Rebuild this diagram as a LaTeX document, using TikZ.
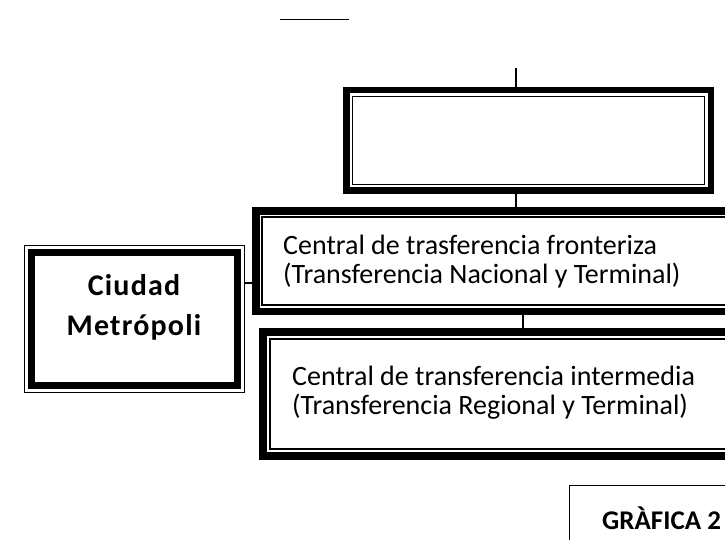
\documentclass[tikz,border=0pt]{standalone}
\usepackage{fontspec}
\setmainfont{Carlito}
\newfontfamily\cbold[LetterSpace=4]{Carlito}
\begin{document}
\begin{tikzpicture}[x=1pt,y=-1pt,
  area/.style={draw=none,inner sep=0pt,outer sep=0pt,minimum width=#1},
  conn/.style={line width=1.2pt,black},
  txt/.style={inner sep=0pt,anchor=base west,font=\fontsize{28}{33}\selectfont},
  btxt/.style={inner sep=0pt,anchor=base,font=\cbold\bfseries\fontsize{30}{34}\selectfont}]
\useasboundingbox (0,0) rectangle (725,540);
\clip (0,0) rectangle (725,540);
% frames (named areas)
\node[area=371pt,minimum height=107pt] (topbox) at (528.5,140.5) {};
\node[area=490pt,minimum height=108pt] (fronbox) at (497,261) {};
\node[area=480pt,minimum height=132pt] (interbox) at (499,394) {};
\node[area=221pt,minimum height=148pt] (ciudad) at (134.5,319) {};
\node[area=200pt,minimum height=100pt] (grafica) at (669,535) {};
% thick-thin borders
\draw[line width=6.5pt] ([shift={(3.25,3.25)}]topbox.north west) rectangle ([shift={(-3.25,-3.25)}]topbox.south east);
\draw[line width=1.2pt] ([shift={(9.5,9.5)}]topbox.north west) rectangle ([shift={(-9.5,-9.5)}]topbox.south east);
\draw[line width=7.5pt] ([shift={(3.75,3.75)}]fronbox.north west) rectangle ([shift={(-3.75,-3.75)}]fronbox.south east);
\draw[line width=1.2pt] ([shift={(10,10)}]fronbox.north west) rectangle ([shift={(-10,-10)}]fronbox.south east);
\draw[line width=8pt] ([shift={(4,4)}]interbox.north west) rectangle ([shift={(-4,-4)}]interbox.south east);
\draw[line width=1.2pt] ([shift={(11,11)}]interbox.north west) rectangle ([shift={(-11,-11)}]interbox.south east);
% thin-thick border
\draw[line width=1.4pt] ([shift={(0.7,0.7)}]ciudad.north west) rectangle ([shift={(-0.7,-0.7)}]ciudad.south east);
\draw[line width=7pt] ([shift={(7.5,7.5)}]ciudad.north west) rectangle ([shift={(-7.5,-7.5)}]ciudad.south east);
% grafica
\draw[line width=1.3pt] ([shift={(0.65,0.65)}]grafica.north west) rectangle ([shift={(-0.65,-0.65)}]grafica.south east);
% top line
\coordinate (la) at (280,19.5);
\coordinate (lb) at (349,19.5);
\draw[line width=1.8pt] (la) -- (lb);
% connectors
\coordinate (topin) at (516,68);
\draw[conn] (topin) -- (topin |- topbox.north);
\draw[conn] (topbox.south -| topin) -- (fronbox.north -| topin);
\coordinate (midc) at (523,0);
\draw[conn] (fronbox.south -| midc) -- (interbox.north -| midc);
\coordinate (hc) at (0,283);
\draw[conn] (ciudad.east |- hc) -- (fronbox.west |- hc);
% texts
\node[txt] (f1) at (283,254) {Central de trasferencia fronteriza};
\node[txt] (f2) at (283,283) {(Transferencia Nacional y Terminal)};
\node[txt] (i1) at (292,385) {Central de transferencia intermedia};
\node[txt] (i2) at (292,414) {(Transferencia Regional y Terminal)};
\node[btxt] (c1) at (134,295) {Ciudad};
\node[btxt] (c2) at (134,335) {Metrópoli};
\node[txt,font=\bfseries\fontsize{27}{32}\selectfont] (g1) at (602,529) {GRÀFICA 2};
\end{tikzpicture}
\end{document}
